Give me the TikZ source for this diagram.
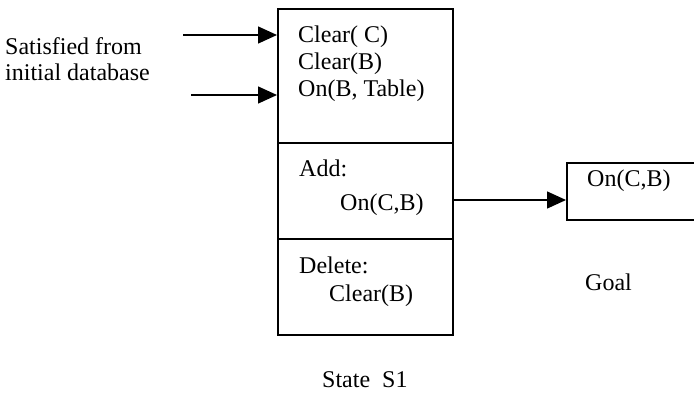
\documentclass[tikz,border=0pt]{standalone}
\usepackage{fontspec}
\setmainfont{Liberation Serif}
\usetikzlibrary{arrows.meta}
\tikzset{
  boxpart/.style={draw, line width=1.8pt, rectangle, inner sep=0pt, anchor=north west, minimum width=175pt},
  lbl/.style={anchor=base west, inner sep=0pt, font=\fontsize{24}{27}\selectfont},
  arr/.style={line width=1.5pt, -{Triangle[length=19pt,width=17pt]}}
}
\begin{document}
\begin{tikzpicture}[x=1pt,y=-1pt]
\useasboundingbox (0,0) rectangle (694,400);
\clip (0,0) rectangle (694,400);
% main operator box
\node[boxpart, minimum height=134pt] (pre) at (277,8) {};
\node[boxpart, minimum height=96pt] (add) at (277,142) {};
\node[boxpart, minimum height=96pt] (del) at (277,238) {};
% goal box (right side runs off the picture)
\node[draw, line width=1.8pt, rectangle, inner sep=0pt, anchor=north west, minimum width=150pt, minimum height=57pt] (goal) at (566,162) {};
% texts
\node[lbl] (c1) at (298,42) {Clear( C)};
\node[lbl] (c2) at (298,69) {Clear(B)};
\node[lbl] (c3) at (298,96) {On(B, Table)};
\node[lbl] (addl) at (299,176) {Add:};
\node[lbl] (addt) at (340,210) {On(C,B)};
\node[lbl] (dell) at (299,273) {Delete:};
\node[lbl] (delt) at (329,301) {Clear(B)};
\node[lbl] (goalt) at (587,186) {On(C,B)};
\node[lbl] (goallbl) at (585,290) {Goal};
\node[lbl] (state) at (322,387) {State\ \ S1};
\node[lbl] (sat1) at (5,54) {Satisfied from};
\node[lbl] (sat2) at (5,80) {initial database};
% connectors
\coordinate (s1) at (183,35);
\coordinate (s2) at (191,95);
\coordinate (g) at (0,200);
\draw[arr] (s1) -- (pre.west |- s1);
\draw[arr] (s2) -- (pre.west |- s2);
\draw[arr] (add.east |- g) -- (goal.west |- g);
\end{tikzpicture}
\end{document}
